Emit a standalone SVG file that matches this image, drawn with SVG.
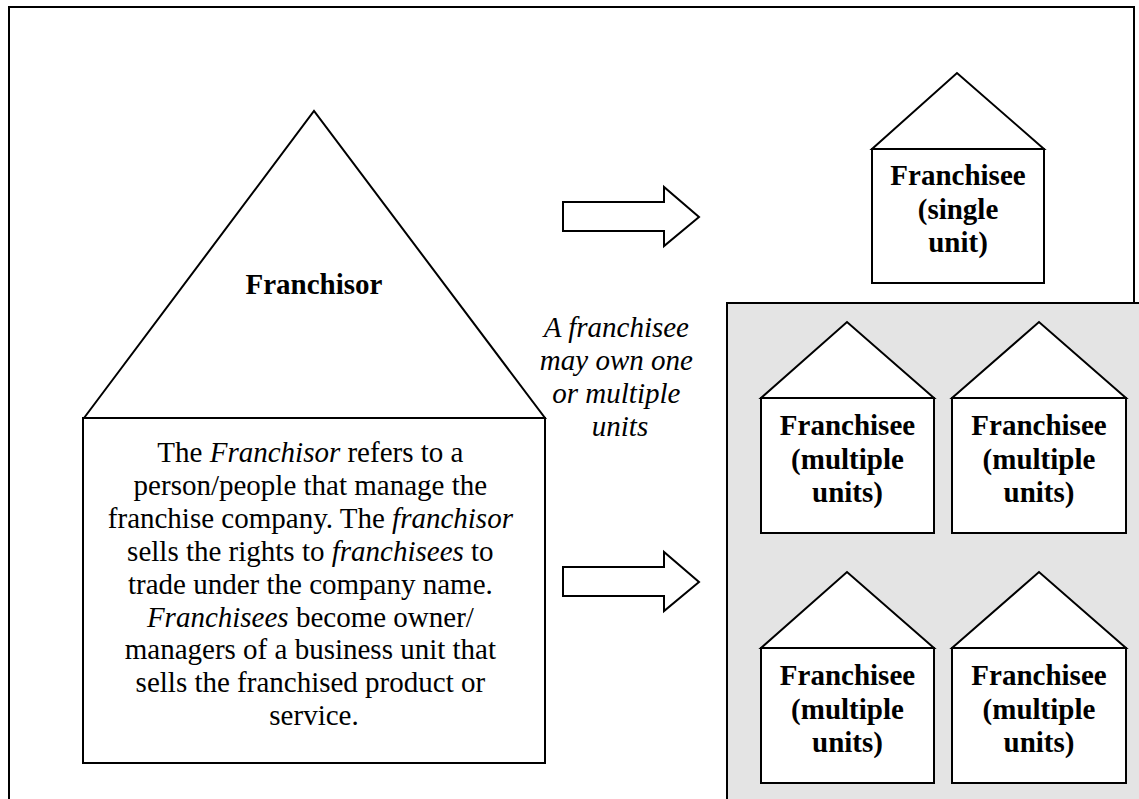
<svg xmlns="http://www.w3.org/2000/svg" width="1139" height="799" viewBox="0 0 1139 799">
<style>
.ln{fill:#fff;stroke:#000;stroke-width:2}
text{font-family:'Liberation Serif','Times New Roman','DejaVu Serif',serif;font-size:29px;fill:#000;text-anchor:middle}
.b{font-weight:bold}
.i{font-style:italic}
</style>
<rect x="0" y="0" width="1139" height="799" fill="#fff"/>
<rect x="9" y="7" width="1125" height="820" fill="none" stroke="#000" stroke-width="2"/>
<g id="group-multiple">
<rect x="727" y="303" width="430" height="520" fill="#e4e4e4" stroke="#000" stroke-width="2"/>
</g>
<g id="franchisor">
<polygon class="ln" points="84,418 314,111 545,418"/>
<rect class="ln" x="83" y="418" width="462" height="345"/>
<text class="b" x="314" y="294" font-size="32">Franchisor</text>
<text x="314">
<tspan x="314" y="462">The <tspan class="i">Franchisor</tspan> refers to a</tspan>
<tspan x="314" y="494.9">person/people that manage the</tspan>
<tspan x="314" y="527.8">franchise company. The <tspan class="i">franchisor</tspan></tspan>
<tspan x="314" y="560.7">sells the rights to <tspan class="i">franchisees</tspan> to</tspan>
<tspan x="314" y="593.6">trade under the company name.</tspan>
<tspan x="314" y="626.5"><tspan class="i">Franchisees</tspan> become owner/</tspan>
<tspan x="314" y="659.4">managers of a business unit that</tspan>
<tspan x="314" y="692.3">sells the franchised product or</tspan>
<tspan x="314" y="725.2">service.</tspan>
</text>
</g>
<g id="note">
<text class="i">
<tspan x="620" y="337">A franchisee</tspan>
<tspan x="620" y="370">may own one</tspan>
<tspan x="620" y="403">or multiple</tspan>
<tspan x="620" y="436">units</tspan>
</text>
</g>
<g id="connectors">
<polygon class="ln" points="563,202 664,202 664,187 699,217 664,246 664,231 563,231"/>
<polygon class="ln" points="563,567 664,567 664,552 699,582 664,611 664,596 563,596"/>
</g>
<g id="single-unit">
<polygon class="ln" points="872,149 957,73 1044,149"/>
<rect class="ln" x="872" y="149" width="172" height="134"/>
<text class="b"><tspan x="958" y="185">Franchisee</tspan><tspan x="958" y="218.5">(single</tspan><tspan x="958" y="252">unit)</tspan></text>
</g>
<g id="multi-1">
<polygon class="ln" points="761,398 847,322 934,398"/>
<rect class="ln" x="761" y="398" width="173" height="135"/>
<text class="b"><tspan x="847.5" y="435">Franchisee</tspan><tspan x="847.5" y="468.5">(multiple</tspan><tspan x="847.5" y="502">units)</tspan></text>
</g>
<g id="multi-2">
<polygon class="ln" points="952,398 1039,322 1126,398"/>
<rect class="ln" x="952" y="398" width="174" height="135"/>
<text class="b"><tspan x="1039" y="435">Franchisee</tspan><tspan x="1039" y="468.5">(multiple</tspan><tspan x="1039" y="502">units)</tspan></text>
</g>
<g id="multi-3">
<polygon class="ln" points="761,648 847,572 934,648"/>
<rect class="ln" x="761" y="648" width="173" height="135"/>
<text class="b"><tspan x="847.5" y="685">Franchisee</tspan><tspan x="847.5" y="718.5">(multiple</tspan><tspan x="847.5" y="752">units)</tspan></text>
</g>
<g id="multi-4">
<polygon class="ln" points="952,648 1039,572 1126,648"/>
<rect class="ln" x="952" y="648" width="174" height="135"/>
<text class="b"><tspan x="1039" y="685">Franchisee</tspan><tspan x="1039" y="718.5">(multiple</tspan><tspan x="1039" y="752">units)</tspan></text>
</g>
</svg>
